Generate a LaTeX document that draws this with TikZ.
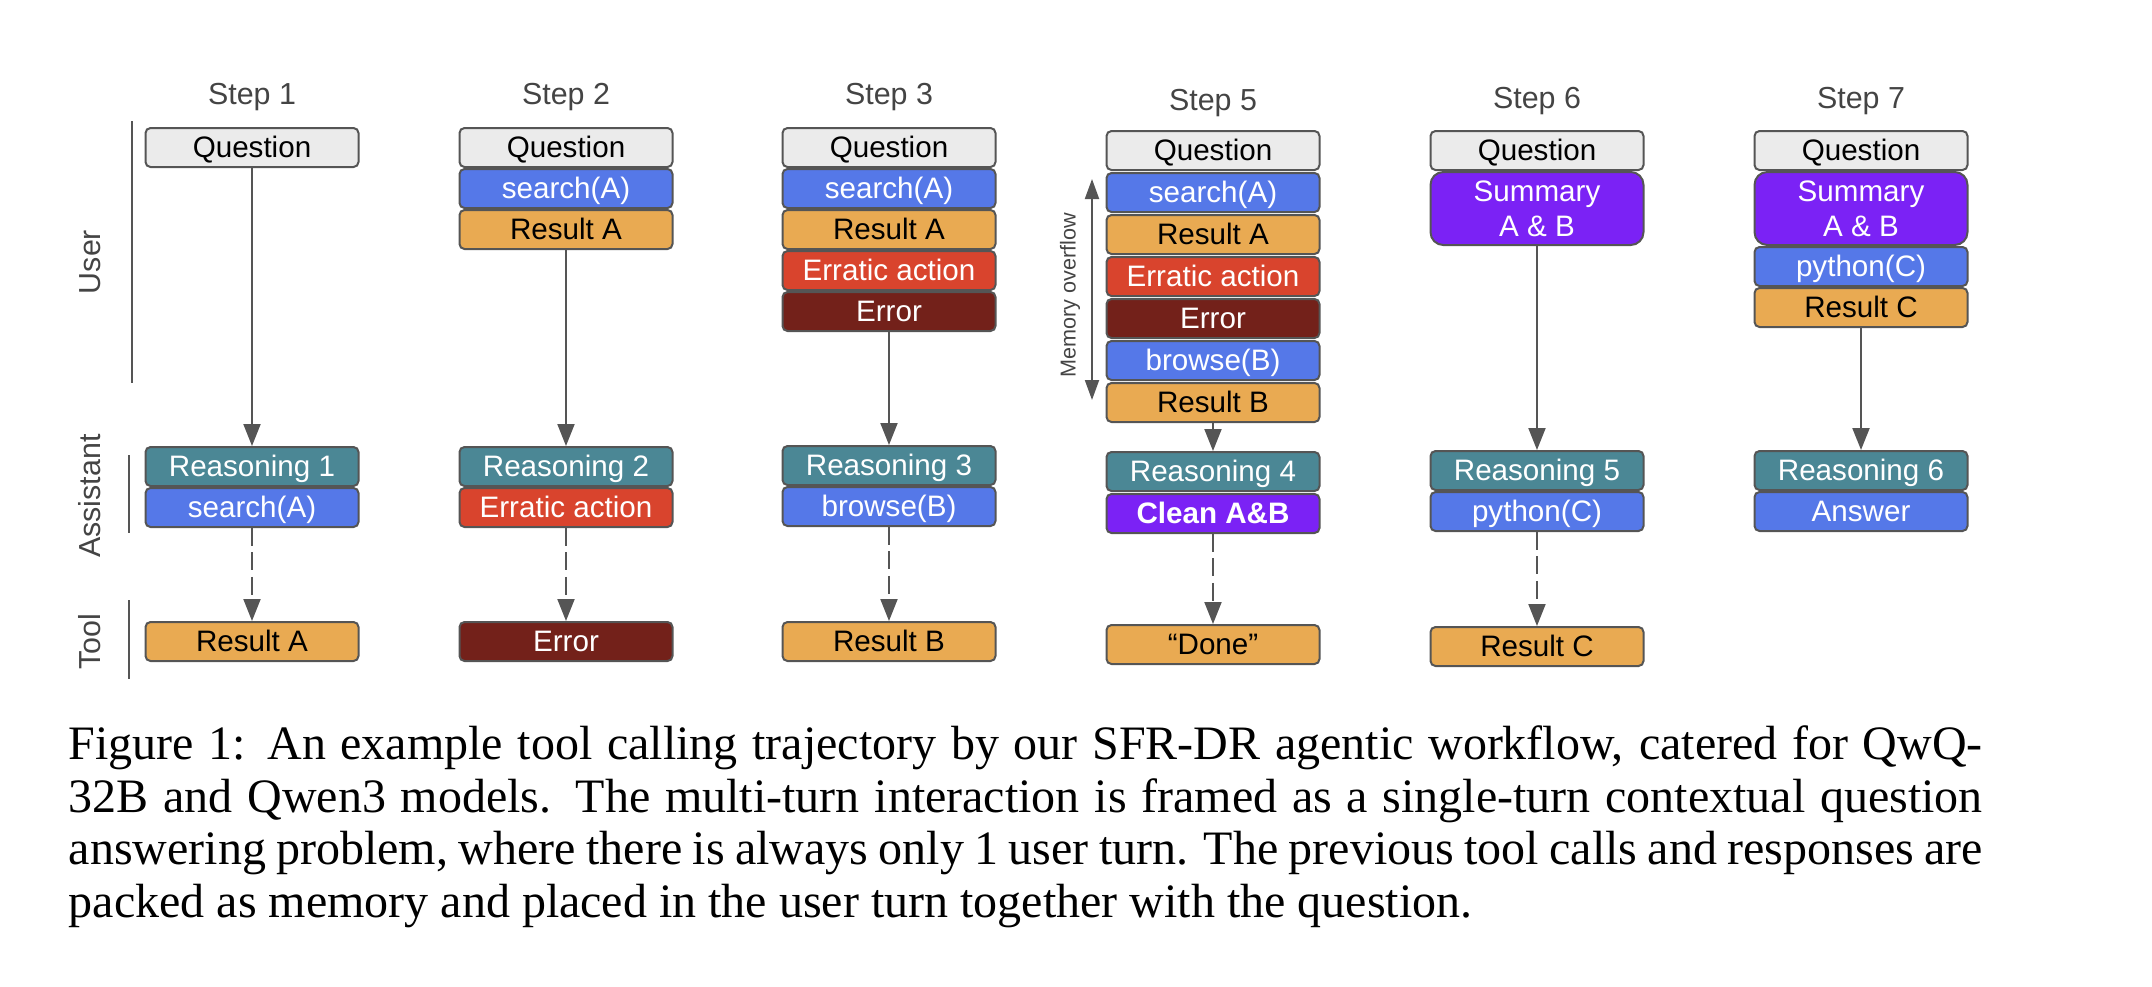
\documentclass[tikz,border=0pt]{standalone}
\usepackage{fontspec}
\setmainfont{Liberation Serif}
\newfontfamily\arial{Liberation Sans}
\usetikzlibrary{positioning,arrows.meta}

\definecolor{qgray}{HTML}{EBEBEB}
\definecolor{callblue}{HTML}{5578E8}
\definecolor{resorange}{HTML}{E9AA52}
\definecolor{badred}{HTML}{D9442D}
\definecolor{errbrown}{HTML}{73211A}
\definecolor{reasteal}{HTML}{4B8795}
\definecolor{sumpurple}{HTML}{7B22F5}
\definecolor{edge}{HTML}{555555}
\definecolor{labgray}{HTML}{444444}

\newcommand\boxfont{\arial\fontsize{7.4}{8.8}\selectfont}
\newcommand\labfont{\arial\fontsize{7.6}{9}\selectfont}
\newcommand\memfont{\arial\fontsize{5.4}{6.5}\selectfont}
\newcommand\capfont{\fontsize{12}{13.1}\selectfont}

\tikzset{
  card/.style={draw=edge, line width=0.5pt, rounded corners=1.25pt, minimum width=53.25pt,
    inner sep=0pt, font=\boxfont},
  blk/.style={card, minimum height=9.75pt, text height=5.3pt, text depth=0.15pt},
  qst/.style={blk, fill=qgray, text=black},
  call/.style={blk, fill=callblue, text=white},
  res/.style={blk, fill=resorange, text=black},
  bad/.style={blk, fill=badred, text=white},
  err/.style={blk, fill=errbrown, text=white},
  reas/.style={blk, fill=reasteal, text=white},
  clean/.style={blk, fill=sumpurple, text=white, font=\boxfont\bfseries},
  summ/.style={card, fill=sumpurple, text=white, minimum height=18.25pt, rounded corners=3.2pt, align=center},
  flow/.style={draw=edge, line width=0.5pt, -{Triangle[length=5.5pt,width=4.25pt]}},
  toolflow/.style={flow, dash pattern=on 4.5pt off 1.6pt},
  steplabel/.style={text=labgray, font=\labfont, anchor=base},
  sidelabel/.style={text=labgray, font=\labfont, rotate=90},
  side/.style={draw=edge, line width=0.4pt},
}

\begin{document}
\begin{tikzpicture}[x=0.25pt, y=-0.25pt, node distance=0pt]
\useasboundingbox (0,0) rectangle (2152,986);

% roles on the left
\draw[side] (132,121) -- (132,383);
\draw[side] (129,455) -- (129,533);
\draw[side] (129,600) -- (129,679);
\node[sidelabel] (user) at (90,262) {User};
\node[sidelabel] (assistant) at (90,496) {Assistant};
\node[sidelabel] (tool) at (90,642) {Tool};

% step 1
\node[steplabel] (s1) at (252,104) {Step 1};
\node[qst, anchor=north] (q1) at (252,127) {Question};
\node[reas, anchor=north] (r1) at (252,446) {Reasoning 1};
\node[call, below=of r1] (a1) {search(A)};
\node[res, anchor=north] (t1) at (252,621) {Result A};
\draw[flow] (q1) -- (r1);
\draw[toolflow] (a1) -- (t1);

% step 2
\node[steplabel] (s2) at (566,104) {Step 2};
\node[qst, anchor=north] (q2) at (566,127) {Question};
\node[call, below=of q2] (m2a) {search(A)};
\node[res, below=of m2a] (m2b) {Result A};
\node[reas, anchor=north] (r2) at (566,446) {Reasoning 2};
\node[bad, below=of r2] (a2) {Erratic action};
\node[err, anchor=north] (t2) at (566,621) {Error};
\draw[flow] (m2b) -- (r2);
\draw[toolflow] (a2) -- (t2);

% step 3
\node[steplabel] (s3) at (889,104) {Step 3};
\node[qst, anchor=north] (q3) at (889,127) {Question};
\node[call, below=of q3] (m3a) {search(A)};
\node[res, below=of m3a] (m3b) {Result A};
\node[bad, below=of m3b] (m3c) {Erratic action};
\node[err, below=of m3c] (m3d) {Error};
\node[reas, anchor=north] (r3) at (889,445) {Reasoning 3};
\node[call, below=of r3] (a3) {browse(B)};
\node[res, anchor=north] (t3) at (889,621) {Result B};
\draw[flow] (m3d) -- (r3);
\draw[toolflow] (a3) -- (t3);

% step 5
\begin{scope}[node distance=0.25pt]
\node[steplabel] (s5) at (1213,110) {Step 5};
\node[qst, anchor=north] (q5) at (1213,130) {Question};
\node[call, below=of q5] (m5a) {search(A)};
\node[res, below=of m5a] (m5b) {Result A};
\node[bad, below=of m5b] (m5c) {Erratic action};
\node[err, below=of m5c] (m5d) {Error};
\node[call, below=of m5d] (m5e) {browse(B)};
\node[res, below=of m5e] (m5f) {Result B};
\node[reas, anchor=north] (r5) at (1213,451) {Reasoning 4};
\node[clean, below=of r5] (a5) {Clean A\&B};
\node[res, anchor=north] (t5) at (1213,624) {“Done”};
\end{scope}
\draw[flow] (m5f) -- (r5);
\draw[toolflow] (a5) -- (t5);
\coordinate (mtop) at (1092,179);
\coordinate (mbot) at (1092,400);
\draw[draw=edge, line width=0.5pt, {Triangle[length=5pt,width=3.5pt]}-{Triangle[length=5pt,width=3.5pt]}] (mtop) -- (mbot);
\node[text=labgray, font=\memfont, rotate=90] (mem) at (1070,295) {Memory overflow};

% step 6
\node[steplabel] (s6) at (1537,108) {Step 6};
\node[qst, anchor=north] (q6) at (1537,130) {Question};
\node[summ, below=of q6] (m6a) {Summary\\A \& B};
\node[reas, anchor=north] (r6) at (1537,450) {Reasoning 5};
\node[call, below=of r6] (a6) {python(C)};
\node[res, anchor=north] (t6) at (1537,626) {Result C};
\draw[flow] (m6a) -- (r6);
\draw[toolflow] (a6) -- (t6);

% step 7
\node[steplabel] (s7) at (1861,108) {Step 7};
\node[qst, anchor=north] (q7) at (1861,130) {Question};
\node[summ, below=of q7] (m7a) {Summary\\A \& B};
\node[call, below=of m7a] (m7b) {python(C)};
\node[res, below=of m7b] (m7c) {Result C};
\node[reas, anchor=north] (r7) at (1861,450) {Reasoning 6};
\node[call, below=of r7] (a7) {Answer};
\draw[flow] (m7c) -- (r7);

% caption
\node[anchor=base west, align=left, inner sep=0pt, font=\capfont] (caption) at (68,917) {%
\makebox[478.5pt][s]{Figure 1: An example tool calling trajectory by our SFR-DR agentic workflow, catered for QwQ-}\\
\makebox[478.5pt][s]{32B and Qwen3 models. The multi-turn interaction is framed as a single-turn contextual question}\\
\makebox[478.5pt][s]{answering problem, where there is always only 1 user turn. The previous tool calls and responses are}\\
packed as memory and placed in the user turn together with the question.};
\end{tikzpicture}
\end{document}
